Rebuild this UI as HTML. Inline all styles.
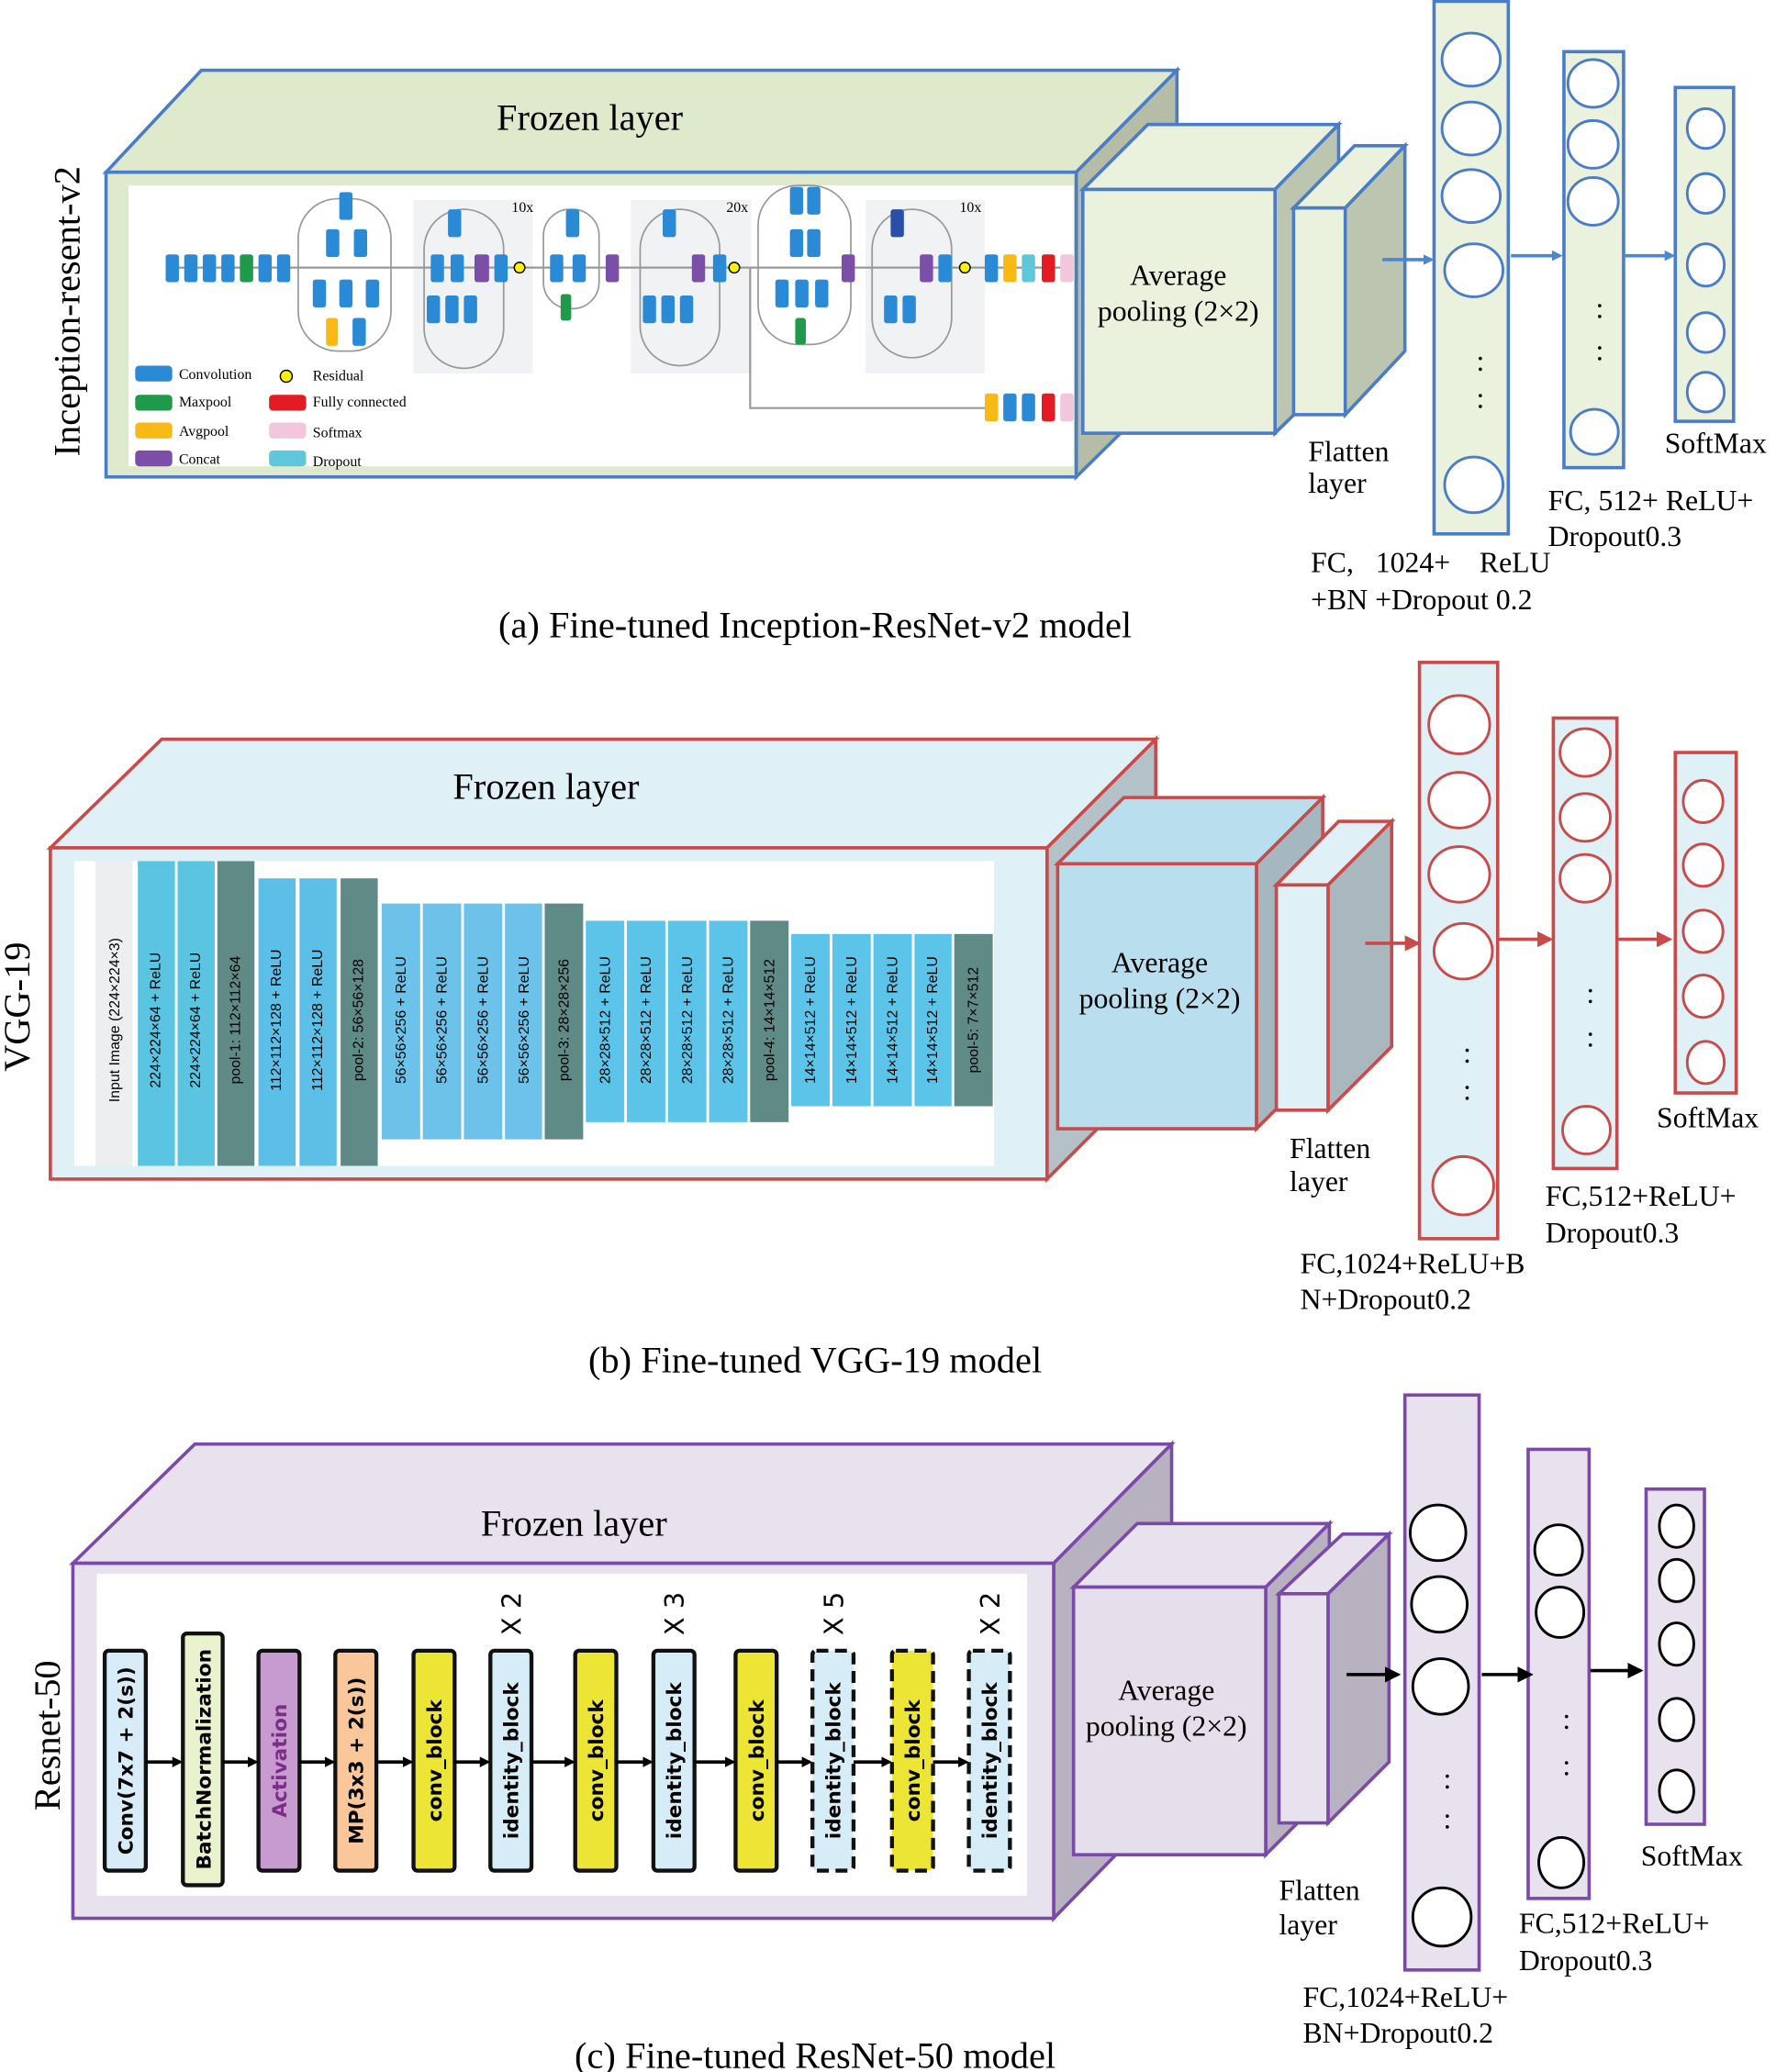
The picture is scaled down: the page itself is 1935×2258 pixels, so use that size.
<!DOCTYPE html>
<html><head><meta charset="utf-8"><style>html,body{margin:0;padding:0;background:#fff}svg{display:block}</style></head>
<body>
<svg width="1935" height="2258" viewBox="0 0 1340 1564" preserveAspectRatio="none" xmlns="http://www.w3.org/2000/svg" font-family="Liberation Serif, serif">
<defs>
<marker id="ab" markerWidth="8" markerHeight="8" refX="6" refY="4" orient="auto" markerUnits="userSpaceOnUse"><path d="M0,0 L8,4 L0,8 Z" fill="#4a88d0"/></marker>
<marker id="ar" markerWidth="12" markerHeight="12" refX="10" refY="6" orient="auto" markerUnits="userSpaceOnUse"><path d="M0,0 L12,6 L0,12 Z" fill="#c94a4a"/></marker>
<marker id="ak" markerWidth="12" markerHeight="12" refX="10" refY="6" orient="auto" markerUnits="userSpaceOnUse"><path d="M0,0 L12,6 L0,12 Z" fill="#000"/></marker>
<marker id="as" markerWidth="8" markerHeight="8" refX="6" refY="4" orient="auto" markerUnits="userSpaceOnUse"><path d="M0,0 L8,4 L0,8 Z" fill="#000"/></marker>
</defs>

<!-- ============ (a) ============ -->
<g stroke="#4a7cc8" stroke-width="2.5">
<polygon points="80,130 152,53 888,53 812,130" fill="#dfe9cc"/>
<polygon points="812,130 888,53 888,285 812,360" fill="#b5bda6"/>
<rect x="80" y="130" width="732" height="230" fill="#dfe9cc"/>
</g>
<rect x="97" y="140" width="713" height="212" fill="#fff"/>
<text x="445" y="98" font-size="28" text-anchor="middle">Frozen layer</text>
<text transform="translate(60,235) rotate(-90)" font-size="28" text-anchor="middle">Inception-resent-v2</text>
<g>
<rect x="312" y="151" width="90" height="131" fill="#f1f2f3"/>
<rect x="476" y="151" width="91" height="131" fill="#f1f2f3"/>
<rect x="653" y="151" width="90" height="131" fill="#f1f2f3"/>
<line x1="125" y1="202" x2="810" y2="202" stroke="#999" stroke-width="1.5"/>
<polyline points="566,202 566,308 745,308" fill="none" stroke="#999" stroke-width="1.5"/>
<g fill="none" stroke="#999" stroke-width="1.2">
<rect x="225" y="150" width="70" height="115" rx="30"/>
<rect x="320" y="158" width="60" height="120" rx="30"/>
<rect x="410" y="158" width="42" height="75" rx="20"/>
<rect x="483" y="158" width="60" height="118" rx="30"/>
<rect x="572" y="140" width="70" height="120" rx="30"/>
<rect x="658" y="158" width="60" height="112" rx="30"/>
</g>
<g fill="#2b8ad6">
<rect x="125" y="192" width="10" height="21" rx="2"/><rect x="139" y="192" width="10" height="21" rx="2"/><rect x="153" y="192" width="10" height="21" rx="2"/><rect x="167" y="192" width="10" height="21" rx="2"/>
<rect x="195" y="192" width="10" height="21" rx="2"/><rect x="209" y="192" width="10" height="21" rx="2"/>
<rect x="256" y="145" width="10" height="21" rx="2"/><rect x="246" y="173" width="10" height="21" rx="2"/><rect x="267" y="173" width="10" height="21" rx="2"/>
<rect x="236" y="211" width="10" height="21" rx="2"/><rect x="256" y="211" width="10" height="21" rx="2"/><rect x="276" y="211" width="10" height="21" rx="2"/><rect x="266" y="240" width="10" height="21" rx="2"/>
<rect x="338" y="158" width="10" height="21" rx="2"/><rect x="325" y="192" width="10" height="21" rx="2"/><rect x="340" y="192" width="10" height="21" rx="2"/><rect x="373" y="192" width="10" height="21" rx="2"/>
<rect x="322" y="223" width="10" height="21" rx="2"/><rect x="336" y="223" width="10" height="21" rx="2"/><rect x="350" y="223" width="10" height="21" rx="2"/>
<rect x="427" y="158" width="10" height="21" rx="2"/><rect x="415" y="192" width="10" height="21" rx="2"/><rect x="432" y="192" width="10" height="21" rx="2"/>
<rect x="500" y="158" width="10" height="21" rx="2"/><rect x="538" y="192" width="10" height="21" rx="2"/>
<rect x="485" y="223" width="10" height="21" rx="2"/><rect x="499" y="223" width="10" height="21" rx="2"/><rect x="513" y="223" width="10" height="21" rx="2"/>
<rect x="596" y="141" width="10" height="21" rx="2"/><rect x="609" y="141" width="10" height="21" rx="2"/><rect x="596" y="173" width="10" height="21" rx="2"/><rect x="609" y="173" width="10" height="21" rx="2"/>
<rect x="585" y="211" width="10" height="21" rx="2"/><rect x="600" y="211" width="10" height="21" rx="2"/><rect x="615" y="211" width="10" height="21" rx="2"/>
<rect x="708" y="192" width="10" height="21" rx="2"/><rect x="667" y="223" width="10" height="21" rx="2"/><rect x="681" y="223" width="10" height="21" rx="2"/>
<rect x="743" y="192" width="10" height="21" rx="2"/>
<rect x="757" y="297" width="10" height="21" rx="2"/><rect x="771" y="297" width="10" height="21" rx="2"/>
</g>
<rect x="672" y="158" width="10" height="21" rx="2" fill="#2a4fa8"/>
<g fill="#1e9a4a"><rect x="181" y="192" width="10" height="21" rx="2"/><rect x="423" y="222" width="8" height="20" rx="2"/><rect x="600" y="240" width="8" height="20" rx="2"/></g>
<g fill="#7b4fa8"><rect x="358" y="192" width="11" height="21" rx="2"/><rect x="457" y="192" width="10" height="21" rx="2"/><rect x="522" y="192" width="10" height="21" rx="2"/><rect x="635" y="192" width="10" height="21" rx="2"/><rect x="694" y="192" width="10" height="21" rx="2"/></g>
<g fill="#f8b915"><rect x="246" y="240" width="9" height="21" rx="2"/><rect x="757" y="192" width="10" height="21" rx="2"/><rect x="743" y="297" width="10" height="21" rx="2"/></g>
<rect x="771" y="192" width="10" height="21" rx="2" fill="#5ec8da"/>
<rect x="786" y="192" width="10" height="21" rx="2" fill="#e31b23"/><rect x="786" y="297" width="10" height="21" rx="2" fill="#e31b23"/>
<rect x="800" y="192" width="10" height="21" rx="2" fill="#f2c6dc"/><rect x="800" y="297" width="10" height="21" rx="2" fill="#f2c6dc"/>
<g fill="#fff200" stroke="#000" stroke-width="1"><circle cx="392" cy="202" r="4"/><circle cx="554" cy="202" r="4"/><circle cx="728" cy="202" r="4"/><circle cx="216" cy="284" r="4.5"/></g>
<g font-size="11" fill="#000"><text x="386" y="160">10x</text><text x="548" y="160">20x</text><text x="724" y="160">10x</text></g>
<rect x="102" y="276" width="28" height="12" rx="3" fill="#2b8ad6"/><rect x="102" y="298" width="28" height="12" rx="3" fill="#1e9a4a"/>
<rect x="102" y="319" width="28" height="12" rx="3" fill="#f8b915"/><rect x="102" y="340" width="28" height="12" rx="3" fill="#7b4fa8"/>
<rect x="203" y="298" width="28" height="12" rx="3" fill="#e31b23"/><rect x="203" y="319" width="28" height="12" rx="3" fill="#f2c6dc"/><rect x="203" y="340" width="28" height="12" rx="3" fill="#5ec8da"/>
<g font-size="11"><text x="135" y="286">Convolution</text><text x="135" y="307">Maxpool</text><text x="135" y="329">Avgpool</text><text x="135" y="350">Concat</text>
<text x="236" y="287">Residual</text><text x="236" y="307">Fully connected</text><text x="236" y="330">Softmax</text><text x="236" y="352">Dropout</text></g>
</g>
<g stroke="#4a7cc8" stroke-width="2.5">
<polygon points="817,143 866,94 1010,94 962,143" fill="#eaf2de"/>
<polygon points="962,143 1010,94 1010,280 962,327" fill="#bcc5b0"/>
<rect x="817" y="143" width="145" height="184" fill="#eaf2de"/>
<polygon points="976,157 1022,110 1060,110 1015,157" fill="#eaf2de"/>
<polygon points="1015,157 1060,110 1060,265 1015,313" fill="#bcc5b0"/>
<rect x="976" y="157" width="39" height="156" fill="#eaf2de"/>
<rect x="1082" y="1" width="56" height="402" fill="#eaf2de"/>
<rect x="1180" y="39" width="45" height="314" fill="#eaf2de"/>
<rect x="1264" y="66" width="44" height="252" fill="#eaf2de"/>
</g>
<g fill="#fff" stroke="#4a7cc8" stroke-width="2">
<ellipse cx="1110" cy="45" rx="22" ry="20"/><ellipse cx="1110" cy="97" rx="22" ry="20"/><ellipse cx="1110" cy="148" rx="22" ry="20"/><ellipse cx="1112" cy="204" rx="22" ry="20"/><ellipse cx="1112" cy="366" rx="22" ry="21"/>
<ellipse cx="1202" cy="63" rx="19" ry="18"/><ellipse cx="1202" cy="109" rx="19" ry="18"/><ellipse cx="1202" cy="152" rx="19" ry="18"/><ellipse cx="1203" cy="326" rx="18" ry="17"/>
<ellipse cx="1287" cy="97" rx="14" ry="15"/><ellipse cx="1287" cy="146" rx="14" ry="15"/><ellipse cx="1287" cy="200" rx="14" ry="16"/><ellipse cx="1287" cy="251" rx="14" ry="15"/><ellipse cx="1287" cy="296" rx="14" ry="15"/>
</g>
<g font-size="22" text-anchor="middle"><text x="1117" y="280">:</text><text x="1117" y="308">:</text><text x="1207" y="240">:</text><text x="1207" y="272">:</text></g>
<g stroke="#4a88d0" stroke-width="2.5" marker-end="url(#ab)"><line x1="1043" y1="196" x2="1080" y2="196"/><line x1="1140" y1="193" x2="1177" y2="193"/><line x1="1225" y1="193" x2="1262" y2="193"/></g>
<g font-size="22"><text x="889" y="215" text-anchor="middle">Average</text><text x="889" y="242" text-anchor="middle">pooling (2×2)</text>
<text x="987" y="348">Flatten</text><text x="987" y="372">layer</text><text x="1256" y="342">SoftMax</text>
<text x="1168" y="385">FC, 512+ ReLU+</text><text x="1168" y="412">Dropout0.3</text>
<text x="989" y="432" xml:space="preserve">FC,   1024+    ReLU</text><text x="989" y="460">+BN +Dropout 0.2</text></g>
<text x="615" y="481" font-size="28" text-anchor="middle">(a) Fine-tuned Inception-ResNet-v2 model</text>

<!-- ============ (b) ============ -->
<g stroke="#c94a4a" stroke-width="2.5">
<polygon points="38,640 122,558 872,558 790,640" fill="#dff0f7"/>
<polygon points="790,640 872,558 872,808 790,890" fill="#b3c2c9"/>
<rect x="38" y="640" width="752" height="250" fill="#dff0f7"/>
</g>
<rect x="56" y="650" width="694" height="230" fill="#fff"/>
<text x="412" y="603" font-size="28" text-anchor="middle">Frozen layer</text>
<text transform="translate(22,760) rotate(-90)" font-size="28" text-anchor="middle">VGG-19</text>
<g>
<rect x="72" y="650" width="28" height="230" fill="#eceeef"/>
<rect x="104" y="650" width="28" height="230" fill="#5bc4e0"/><rect x="134" y="650" width="28" height="230" fill="#5bc4e0"/><rect x="164" y="650" width="28" height="230" fill="#5f8a86"/>
<rect x="195" y="663" width="28" height="217" fill="#5bbfe8"/><rect x="226" y="663" width="28" height="217" fill="#5bbfe8"/><rect x="257" y="663" width="28" height="217" fill="#5f8a86"/>
<rect x="288" y="682" width="29" height="178" fill="#6cc2e8"/><rect x="319" y="682" width="29" height="178" fill="#6cc2e8"/><rect x="350" y="682" width="29" height="178" fill="#6cc2e8"/><rect x="381" y="682" width="28" height="178" fill="#6cc2e8"/><rect x="411" y="682" width="29" height="178" fill="#5f8a86"/>
<rect x="442" y="695" width="29" height="152" fill="#5bc4e8"/><rect x="473" y="695" width="29" height="152" fill="#5bc4e8"/><rect x="504" y="695" width="29" height="152" fill="#5bc4e8"/><rect x="535" y="695" width="29" height="152" fill="#5bc4e8"/><rect x="566" y="695" width="29" height="152" fill="#5f8a86"/>
<rect x="597" y="705" width="29" height="130" fill="#5bc4e8"/><rect x="628" y="705" width="29" height="130" fill="#5bc4e8"/><rect x="659" y="705" width="29" height="130" fill="#5bc4e8"/><rect x="690" y="705" width="28" height="130" fill="#5bc4e8"/><rect x="720" y="705" width="29" height="130" fill="#5f8a86"/>
</g>
<g font-size="11" text-anchor="middle" fill="#000" font-family="Liberation Sans Narrow, Liberation Sans, sans-serif">
<text transform="translate(90,770) rotate(-90)">Input Image (224×224×3)</text>
<text transform="translate(121,770) rotate(-90)">224×224×64 + ReLU</text><text transform="translate(151,770) rotate(-90)">224×224×64 + ReLU</text><text transform="translate(181,770) rotate(-90)">pool-1: 112×112×64</text>
<text transform="translate(212,770) rotate(-90)">112×112×128 + ReLU</text><text transform="translate(243,770) rotate(-90)">112×112×128 + ReLU</text><text transform="translate(274,770) rotate(-90)">pool-2: 56×56×128</text>
<text transform="translate(306,770) rotate(-90)">56×56×256 + ReLU</text><text transform="translate(337,770) rotate(-90)">56×56×256 + ReLU</text><text transform="translate(368,770) rotate(-90)">56×56×256 + ReLU</text><text transform="translate(399,770) rotate(-90)">56×56×256 + ReLU</text><text transform="translate(429,770) rotate(-90)">pool-3: 28×28×256</text>
<text transform="translate(460,770) rotate(-90)">28×28×512 + ReLU</text><text transform="translate(491,770) rotate(-90)">28×28×512 + ReLU</text><text transform="translate(522,770) rotate(-90)">28×28×512 + ReLU</text><text transform="translate(553,770) rotate(-90)">28×28×512 + ReLU</text><text transform="translate(584,770) rotate(-90)">pool-4: 14×14×512</text>
<text transform="translate(615,770) rotate(-90)">14×14×512 + ReLU</text><text transform="translate(646,770) rotate(-90)">14×14×512 + ReLU</text><text transform="translate(677,770) rotate(-90)">14×14×512 + ReLU</text><text transform="translate(707,770) rotate(-90)">14×14×512 + ReLU</text><text transform="translate(738,770) rotate(-90)">pool-5: 7×7×512</text>
</g>
<g stroke="#c94a4a" stroke-width="2.5">
<polygon points="798,652 848,602 998,602 948,652" fill="#b9dfee"/>
<polygon points="948,652 998,602 998,802 948,852" fill="#a5b8c0"/>
<rect x="798" y="652" width="150" height="200" fill="#b9dfee"/>
<polygon points="963,668 1010,620 1050,620 1002,668" fill="#dff0f7"/>
<polygon points="1002,668 1050,620 1050,790 1002,838" fill="#a9b8bf"/>
<rect x="963" y="668" width="39" height="170" fill="#dff0f7"/>
<rect x="1071" y="500" width="59" height="435" fill="#dff0f7"/>
<rect x="1172" y="542" width="48" height="340" fill="#dff0f7"/>
<rect x="1264" y="568" width="46" height="257" fill="#dff0f7"/>
</g>
<g fill="#fff" stroke="#c94a4a" stroke-width="2">
<ellipse cx="1101" cy="547" rx="23" ry="22"/><ellipse cx="1101" cy="604" rx="23" ry="21"/><ellipse cx="1101" cy="660" rx="23" ry="21"/><ellipse cx="1104" cy="718" rx="22" ry="21"/><ellipse cx="1104" cy="895" rx="23" ry="22"/>
<ellipse cx="1196" cy="568" rx="19" ry="18"/><ellipse cx="1196" cy="617" rx="19" ry="18"/><ellipse cx="1196" cy="663" rx="19" ry="18"/><ellipse cx="1197" cy="853" rx="18" ry="18"/>
<ellipse cx="1285" cy="605" rx="15" ry="16"/><ellipse cx="1285" cy="653" rx="15" ry="16"/><ellipse cx="1285" cy="703" rx="15" ry="16"/><ellipse cx="1285" cy="752" rx="15" ry="16"/><ellipse cx="1287" cy="802" rx="14" ry="16"/>
</g>
<g font-size="22" text-anchor="middle"><text x="1107" y="802">:</text><text x="1107" y="830">:</text><text x="1200" y="757">:</text><text x="1200" y="790">:</text></g>
<g stroke="#c94a4a" stroke-width="2.5" marker-end="url(#ar)"><line x1="1030" y1="712" x2="1070" y2="712"/><line x1="1130" y1="709" x2="1170" y2="709"/><line x1="1220" y1="709" x2="1260" y2="709"/></g>
<g font-size="22"><text x="875" y="734" text-anchor="middle">Average</text><text x="875" y="761" text-anchor="middle">pooling (2×2)</text>
<text x="973" y="874">Flatten</text><text x="973" y="899">layer</text><text x="1250" y="851">SoftMax</text>
<text x="1166" y="910">FC,512+ReLU+</text><text x="1166" y="938">Dropout0.3</text>
<text x="981" y="961">FC,1024+ReLU+B</text><text x="981" y="988">N+Dropout0.2</text></g>
<text x="615" y="1036" font-size="28" text-anchor="middle">(b) Fine-tuned VGG-19 model</text>

<!-- ============ (c) ============ -->
<g stroke="#7a4aa8" stroke-width="2.5">
<polygon points="55,1180 147,1090 884,1090 795,1180" fill="#e8e2ef"/>
<polygon points="795,1180 884,1090 884,1357 795,1448" fill="#b8b2c0"/>
<rect x="55" y="1180" width="740" height="268" fill="#e8e2ef"/>
</g>
<rect x="73" y="1188" width="702" height="243" fill="#fff"/>
<text x="433" y="1159" font-size="28" text-anchor="middle">Frozen layer</text>
<text transform="translate(45,1310) rotate(-90)" font-size="28" text-anchor="middle">Resnet-50</text>
<g stroke="#111" stroke-width="3">
<rect x="79" y="1246" width="31" height="166" rx="3" fill="#d8ecf7"/>
<rect x="138" y="1233" width="30" height="190" rx="3" fill="#e8f2cc"/>
<rect x="195" y="1246" width="31" height="166" rx="3" fill="#c79ad0"/>
<rect x="253" y="1246" width="31" height="166" rx="3" fill="#f9c79a"/>
<rect x="312" y="1246" width="31" height="166" rx="3" fill="#ece535"/>
<rect x="370" y="1246" width="31" height="166" rx="3" fill="#d6ecf7"/>
<rect x="434" y="1246" width="31" height="166" rx="3" fill="#ece535"/>
<rect x="493" y="1246" width="31" height="166" rx="3" fill="#d6ecf7"/>
<rect x="555" y="1246" width="31" height="166" rx="3" fill="#ece535"/>
<g stroke-dasharray="9,5">
<rect x="613" y="1246" width="31" height="166" rx="3" fill="#d6ecf7"/>
<rect x="673" y="1246" width="31" height="166" rx="3" fill="#ece535"/>
<rect x="731" y="1246" width="31" height="166" rx="3" fill="#d6ecf7"/>
</g>
</g>
<g font-size="15" font-weight="bold" text-anchor="middle" font-family="DejaVu Sans, sans-serif">
<text transform="translate(100,1329) rotate(-90)">Conv(7x7 + 2(s))</text>
<text transform="translate(159,1328) rotate(-90)">BatchNormalization</text>
<text transform="translate(216,1329) rotate(-90)" fill="#7a2f86">Activation</text>
<text transform="translate(274,1329) rotate(-90)">MP(3x3 + 2(s))</text>
<text transform="translate(333,1329) rotate(-90)">conv_block</text>
<text transform="translate(391,1329) rotate(-90)">identity_block</text>
<text transform="translate(455,1329) rotate(-90)">conv_block</text>
<text transform="translate(514,1329) rotate(-90)">identity_block</text>
<text transform="translate(576,1329) rotate(-90)">conv_block</text>
<text transform="translate(634,1329) rotate(-90)">identity_block</text>
<text transform="translate(694,1329) rotate(-90)">conv_block</text>
<text transform="translate(752,1329) rotate(-90)">identity_block</text>
<g font-size="20" font-weight="normal">
<text transform="translate(393,1218) rotate(-90)">X 2</text><text transform="translate(516,1218) rotate(-90)">X 3</text><text transform="translate(636,1218) rotate(-90)">X 5</text><text transform="translate(754,1218) rotate(-90)">X 2</text></g>
</g>
<g stroke="#000" stroke-width="2.5" marker-end="url(#as)">
<line x1="110" y1="1330" x2="136" y2="1330"/><line x1="168" y1="1330" x2="193" y2="1330"/><line x1="226" y1="1330" x2="251" y2="1330"/><line x1="284" y1="1330" x2="310" y2="1330"/><line x1="343" y1="1330" x2="368" y2="1330"/><line x1="401" y1="1330" x2="432" y2="1330"/><line x1="465" y1="1330" x2="491" y2="1330"/><line x1="524" y1="1330" x2="553" y2="1330"/><line x1="586" y1="1330" x2="611" y2="1330"/><line x1="644" y1="1330" x2="671" y2="1330"/><line x1="704" y1="1330" x2="729" y2="1330"/>
</g>
<g stroke="#7a4aa8" stroke-width="2.5">
<polygon points="810,1198 858,1150 1003,1150 955,1198" fill="#e8e2ef"/>
<polygon points="955,1198 1003,1150 1003,1352 955,1400" fill="#b8b2c0"/>
<rect x="810" y="1198" width="145" height="202" fill="#e4dfeb"/>
<polygon points="965,1203 1013,1158 1048,1158 1002,1203" fill="#e8e2ef"/>
<polygon points="1002,1203 1048,1158 1048,1330 1002,1376" fill="#b8b2c0"/>
<rect x="965" y="1203" width="37" height="173" fill="#e8e2ef"/>
<rect x="1060" y="1053" width="56" height="434" fill="#e8e2ef"/>
<rect x="1153" y="1094" width="46" height="339" fill="#e8e2ef"/>
<rect x="1242" y="1124" width="44" height="253" fill="#e8e2ef"/>
</g>
<g fill="#fff" stroke="#000" stroke-width="2">
<ellipse cx="1085" cy="1157" rx="21" ry="21"/><ellipse cx="1086" cy="1211" rx="21" ry="21"/><ellipse cx="1087" cy="1273" rx="21" ry="21"/><ellipse cx="1088" cy="1447" rx="22" ry="22"/>
<ellipse cx="1176" cy="1170" rx="18" ry="19"/><ellipse cx="1177" cy="1217" rx="18" ry="19"/><ellipse cx="1178" cy="1406" rx="17" ry="19"/>
<ellipse cx="1265" cy="1152" rx="13" ry="16"/><ellipse cx="1265" cy="1193" rx="13" ry="16"/><ellipse cx="1265" cy="1241" rx="13" ry="16"/><ellipse cx="1265" cy="1298" rx="13" ry="16"/><ellipse cx="1265" cy="1352" rx="13" ry="16"/>
</g>
<g font-size="22" text-anchor="middle"><text x="1092" y="1350">:</text><text x="1092" y="1380">:</text><text x="1182" y="1305">:</text><text x="1182" y="1340">:</text></g>
<g stroke="#000" stroke-width="2.5" marker-end="url(#ak)"><line x1="1016" y1="1264" x2="1055" y2="1264"/><line x1="1118" y1="1264" x2="1155" y2="1264"/><line x1="1200" y1="1261" x2="1238" y2="1261"/></g>
<g font-size="22"><text x="880" y="1283" text-anchor="middle">Average</text><text x="880" y="1310" text-anchor="middle">pooling (2×2)</text>
<text x="965" y="1434">Flatten</text><text x="965" y="1460">layer</text><text x="1238" y="1408">SoftMax</text>
<text x="1146" y="1459">FC,512+ReLU+</text><text x="1146" y="1487">Dropout0.3</text>
<text x="983" y="1515">FC,1024+ReLU+</text><text x="983" y="1542">BN+Dropout0.2</text></g>
<text x="615" y="1561" font-size="28" text-anchor="middle">(c) Fine-tuned ResNet-50 model</text>
</svg>
</body></html>
